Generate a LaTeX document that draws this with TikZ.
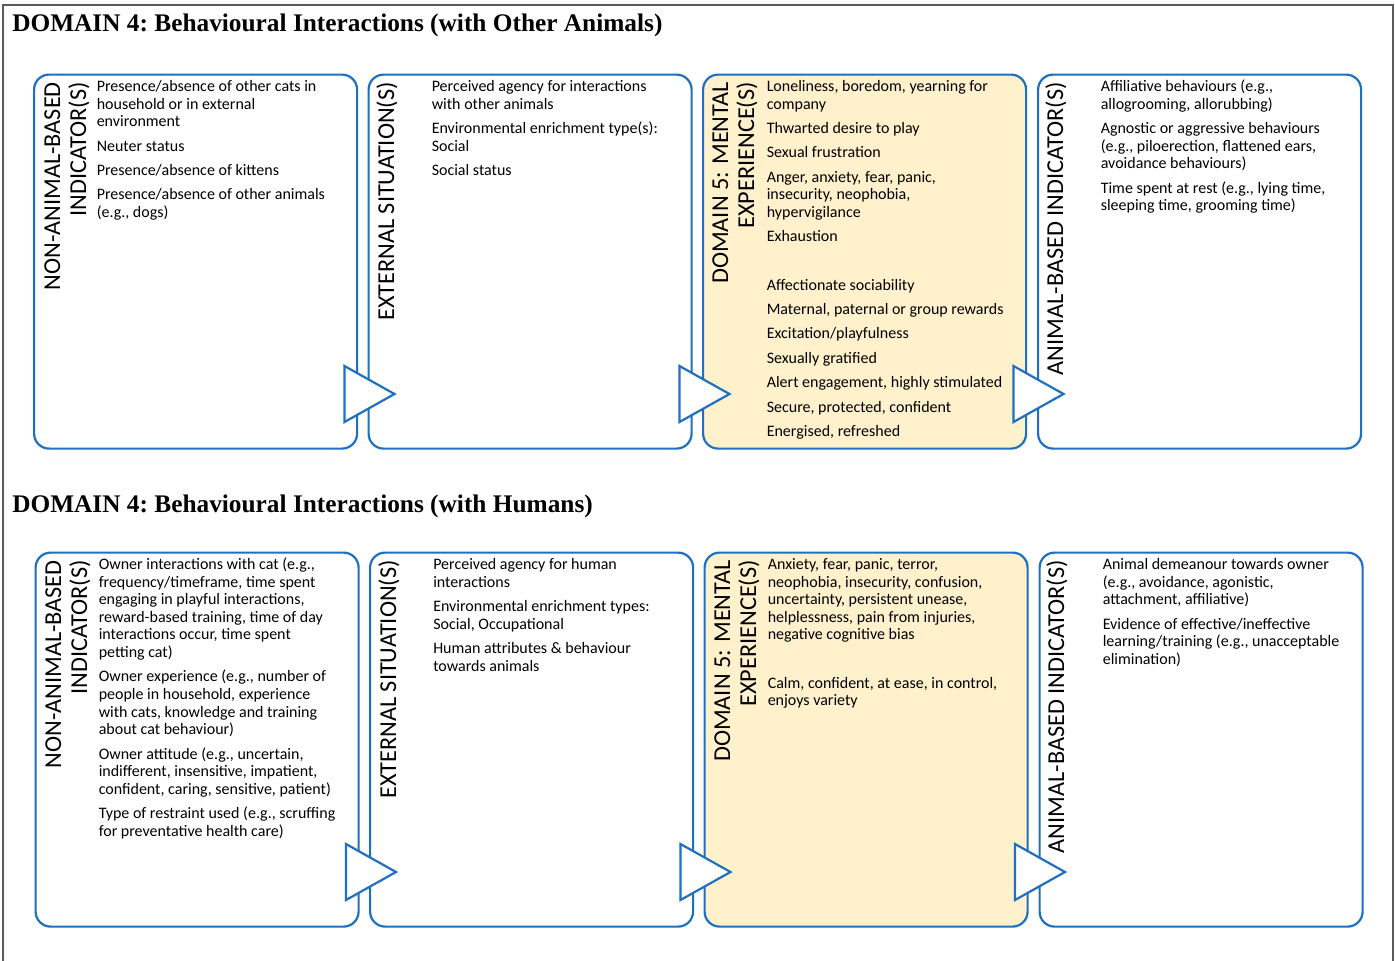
\documentclass[tikz,border=0pt]{standalone}
\usepackage{fontspec}
\setmainfont{Carlito}
\newfontfamily\headfont{Liberation Serif}
\definecolor{bblue}{RGB}{31,112,192}
\definecolor{byellow}{RGB}{255,241,204}
\definecolor{frame}{RGB}{90,90,90}
\newcommand\bodyfont{\fontsize{12}{13.2}\selectfont}
\newcommand\labfont{\fontsize{18.2}{19.5}\selectfont}
\newcommand\headsize{\fontsize{19}{22}\selectfont}
\newcommand\pg{\\[5.1pt]}
\newcommand\bigpg{\\[22.9pt]}
\newcommand\btxt[1]{\parbox[t]{250pt}{\raggedright #1}}
\newcommand\ltxt[1]{\parbox[t]{280pt}{\raggedleft #1}}
\begin{document}
\begin{tikzpicture}[x=0.75pt,y=-0.75pt,
  box/.style={draw=bblue, line width=1.65pt, rounded corners=11.25pt,
    minimum width=242.25pt, minimum height=280.5pt, anchor=north west,
    inner sep=0pt, fill=white},
  ybox/.style={box, fill=byellow},
  tri/.style={draw=bblue, line width=1.65pt, fill=white, line join=miter},
  body/.style={anchor=base west, inner sep=0pt, font=\bodyfont},
  vlabel/.style={rotate=90, anchor=base east, inner sep=0pt, font=\labfont},
  head/.style={anchor=base west, inner sep=0pt, font=\headfont\bfseries\headsize\frenchspacing}]
\useasboundingbox (0,0) rectangle (1395,960);
\fill[white] (0,0) rectangle (1395,960);
\draw[frame, line width=0.9pt] (3,962) -- (3,5) -- (1393,5) -- (1393,962);

% ---------- top row ----------
\node[head] (h1) at (12,31.5) {DOMAIN 4: Behavioural Interactions (with Other Animals)};

\node[box]  (a1) at (33,73.5) {};
\node[box]  (a2) at (367.5,73.5) {};
\node[ybox] (a3) at (702,73.5) {};
\node[box]  (a4) at (1037,73.5) {};

\draw[tri] (344.5,366) -- (394.5,394) -- (344.5,422) -- cycle;
\draw[tri] (679.5,366) -- (729.5,394) -- (679.5,422) -- cycle;
\draw[tri] (1013.5,366) -- (1063.5,394) -- (1013.5,422) -- cycle;

\node[vlabel] (la1) at (60,82) {\ltxt{NON-ANIMAL-BASED\\INDICATOR(S)}};
\node[vlabel] (la2) at (394,82) {\ltxt{EXTERNAL SITUATION(S)}};
\node[vlabel] (la3) at (728,82) {\ltxt{DOMAIN 5: MENTAL\\EXPERIENCE(S)}};
\node[vlabel] (la4) at (1063,82) {\ltxt{ANIMAL-BASED INDICATOR(S)}};

\node[body] (ta1) at (96.5,91.5) {\btxt{Presence/absence of other cats in\\household or in external\\environment\pg
Neuter status\pg
Presence/absence of kittens\pg
Presence/absence of other animals\\(e.g., dogs)}};

\node[body] (ta2) at (431.5,91.5) {\btxt{Perceived agency for interactions\\with other animals\pg
Environmental enrichment type(s):\\Social\pg
Social status}};

\node[body] (ta3) at (766.5,91.5) {\btxt{Loneliness, boredom, yearning for\\company\pg
Thwarted desire to play\pg
Sexual frustration\pg
Anger, anxiety, fear, panic,\\insecurity, neophobia,\\hypervigilance\pg
Exhaustion\bigpg
Affectionate sociability\pg
Maternal, paternal or group rewards\pg
Excitation/playfulness\pg
Sexually gratified\pg
Alert engagement, highly stimulated\pg
Secure, protected, confident\pg
Energised, refreshed}};

\node[body] (ta4) at (1100.5,91.5) {\btxt{Affiliative behaviours (e.g.,\\allogrooming, allorubbing)\pg
Agnostic or aggressive behaviours\\(e.g., piloerection, flattened ears,\\avoidance behaviours)\pg
Time spent at rest (e.g., lying time,\\sleeping time, grooming time)}};

% ---------- bottom row ----------
\node[head] (h2) at (12,512.3) {DOMAIN 4: Behavioural Interactions (with Humans)};

\node[box]  (b1) at (34.5,551.5) {};
\node[box]  (b2) at (369,551.5) {};
\node[ybox] (b3) at (703.5,551.5) {};
\node[box]  (b4) at (1038.5,551.5) {};

\draw[tri] (346,844) -- (396,872) -- (346,900) -- cycle;
\draw[tri] (680.5,844) -- (730.5,872) -- (680.5,900) -- cycle;
\draw[tri] (1015,844) -- (1065,872) -- (1015,900) -- cycle;

\node[vlabel] (lb1) at (61,560) {\ltxt{NON-ANIMAL-BASED\\INDICATOR(S)}};
\node[vlabel] (lb2) at (396,560) {\ltxt{EXTERNAL SITUATION(S)}};
\node[vlabel] (lb3) at (730,560) {\ltxt{DOMAIN 5: MENTAL\\EXPERIENCE(S)}};
\node[vlabel] (lb4) at (1064,560) {\ltxt{ANIMAL-BASED INDICATOR(S)}};

\node[body] (tb1) at (98.5,569.5) {\btxt{Owner interactions with cat (e.g.,\\frequency/timeframe, time spent\\engaging in playful interactions,\\reward-based training, time of day\\interactions occur, time spent\\petting cat)\pg
Owner experience (e.g., number of\\people in household, experience\\with cats, knowledge and training\\about cat behaviour)\pg
Owner attitude (e.g., uncertain,\\indifferent, insensitive, impatient,\\confident, caring, sensitive, patient)\pg
Type of restraint used (e.g., scruffing\\for preventative health care)}};

\node[body] (tb2) at (433,569.5) {\btxt{Perceived agency for human\\interactions\pg
Environmental enrichment types:\\Social, Occupational\pg
Human attributes \& behaviour\\towards animals}};

\node[body] (tb3) at (767.5,569.5) {\btxt{Anxiety, fear, panic, terror,\\neophobia, insecurity, confusion,\\uncertainty, persistent unease,\\helplessness, pain from injuries,\\negative cognitive bias\bigpg
Calm, confident, at ease, in control,\\enjoys variety}};

\node[body] (tb4) at (1102.5,569.5) {\btxt{Animal demeanour towards owner\\(e.g., avoidance, agonistic,\\attachment, affiliative)\pg
Evidence of effective/ineffective\\learning/training (e.g., unacceptable\\elimination)}};
\end{tikzpicture}
\end{document}
